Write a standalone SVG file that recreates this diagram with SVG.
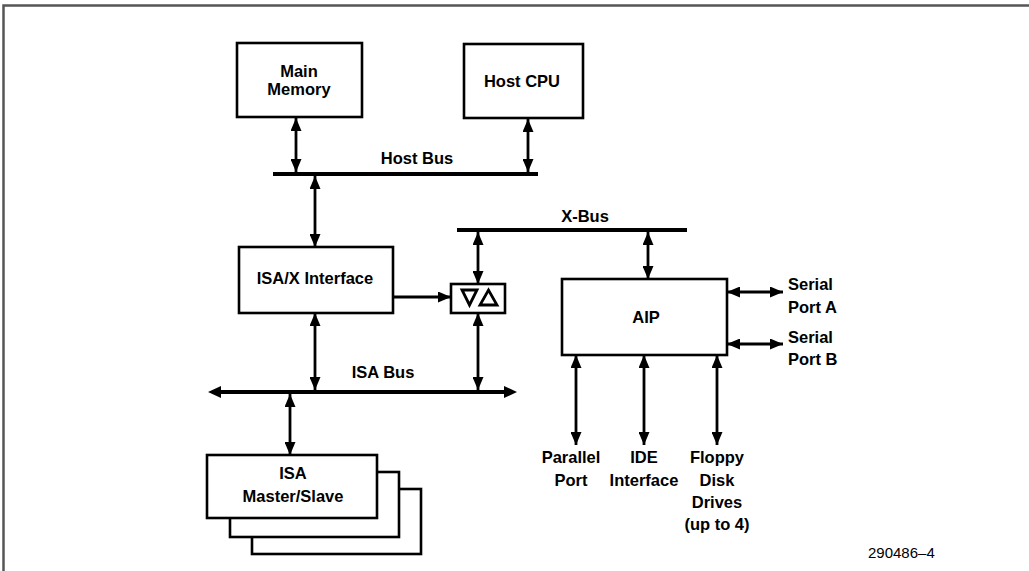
<svg xmlns="http://www.w3.org/2000/svg" width="1029" height="571" viewBox="0 0 1029 571">
<style>
.box{fill:#fff;stroke:#000;stroke-width:2.6}
.bus{stroke:#000;stroke-width:4;fill:none}
.ln{stroke:#000;stroke-width:2.8;fill:none}
.t{font-family:"Liberation Sans",Arial,sans-serif;font-weight:bold;font-size:16.5px;fill:#000;text-anchor:middle}
.tl{font-family:"Liberation Sans",Arial,sans-serif;font-weight:bold;font-size:16.5px;fill:#000}
.n{font-family:"Liberation Sans",Arial,sans-serif;font-size:15px;fill:#000}
.frame{stroke:#555;stroke-width:2.5;fill:none}
</style>
<defs>
<marker id="ah" markerUnits="userSpaceOnUse" markerWidth="13" markerHeight="11" refX="13" refY="5.5" orient="auto-start-reverse">
<path d="M0,0 L13,5.5 L0,11 z" fill="#000"/>
</marker>
</defs>
<path class="frame" d="M3.5,571 V5.5 H1029"/>
<g id="main-memory"><rect class="box" x="237" y="43" width="125" height="74"/><text class="t" x="299" y="77">Main</text><text class="t" x="299" y="95">Memory</text></g>
<g id="host-cpu"><rect class="box" x="464" y="44" width="119" height="74"/><text class="t" x="522" y="87">Host CPU</text></g>
<g id="host-bus"><line class="bus" x1="273" y1="174" x2="538" y2="174"/><text class="t" x="417" y="164">Host Bus</text></g>
<g id="isa-x-interface"><rect class="box" x="239" y="247" width="154" height="66"/><text class="t" x="315" y="284">ISA/X Interface</text></g>
<g id="buffer"><rect class="box" x="451" y="284" width="54" height="29"/><path class="ln" d="M462,290 H477 L469.5,305 Z"/><path class="ln" d="M480,305 H497 L488.5,290 Z"/></g>
<g id="x-bus"><line class="bus" x1="457" y1="230" x2="687" y2="230"/><text class="t" x="585" y="222">X-Bus</text></g>
<g id="aip"><rect class="box" x="562" y="279" width="165" height="76"/><text class="t" x="646" y="323">AIP</text></g>
<g id="isa-bus"><line class="bus" x1="218" y1="392" x2="507" y2="392"/><path d="M208,392 L221,386 L221,398 Z M517,392 L504,386 L504,398 Z" fill="#000"/><text class="t" x="383" y="378">ISA Bus</text></g>
<g id="isa-master-slave"><rect class="box" x="252" y="489" width="169" height="65"/><rect class="box" x="230" y="472" width="169" height="65"/><rect class="box" x="207" y="455" width="170" height="63"/><text class="t" x="293" y="479">ISA</text><text class="t" x="293" y="502">Master/Slave</text></g>
<g id="serial-a"><text class="tl" x="788" y="290">Serial</text><text class="tl" x="788" y="313">Port A</text></g>
<g id="serial-b"><text class="tl" x="788" y="343">Serial</text><text class="tl" x="788" y="365">Port B</text></g>
<g id="parallel-port"><text class="t" x="571" y="463">Parallel</text><text class="t" x="571" y="486">Port</text></g>
<g id="ide-interface"><text class="t" x="644" y="463">IDE</text><text class="t" x="644" y="486">Interface</text></g>
<g id="floppy"><text class="t" x="717" y="463">Floppy</text><text class="t" x="717" y="486">Disk</text><text class="t" x="717" y="508">Drives</text><text class="t" x="717" y="530">(up to 4)</text></g>
<g id="connectors">
<line class="ln" x1="296" y1="118" x2="296" y2="172" marker-start="url(#ah)" marker-end="url(#ah)"/>
<line class="ln" x1="528" y1="119" x2="528" y2="172" marker-start="url(#ah)" marker-end="url(#ah)"/>
<line class="ln" x1="315" y1="176" x2="315" y2="247" marker-start="url(#ah)" marker-end="url(#ah)"/>
<line class="ln" x1="393" y1="297" x2="451" y2="297" marker-end="url(#ah)"/>
<line class="ln" x1="478" y1="232" x2="478" y2="284" marker-start="url(#ah)" marker-end="url(#ah)"/>
<line class="ln" x1="648" y1="232" x2="648" y2="279" marker-start="url(#ah)" marker-end="url(#ah)"/>
<line class="ln" x1="478" y1="313" x2="478" y2="390" marker-start="url(#ah)" marker-end="url(#ah)"/>
<line class="ln" x1="315" y1="313" x2="315" y2="390" marker-start="url(#ah)" marker-end="url(#ah)"/>
<line class="ln" x1="290" y1="394" x2="290" y2="455" marker-start="url(#ah)" marker-end="url(#ah)"/>
<line class="ln" x1="727" y1="292" x2="783" y2="292" marker-start="url(#ah)" marker-end="url(#ah)"/>
<line class="ln" x1="727" y1="344" x2="783" y2="344" marker-start="url(#ah)" marker-end="url(#ah)"/>
<line class="ln" x1="576" y1="355" x2="576" y2="445" marker-start="url(#ah)" marker-end="url(#ah)"/>
<line class="ln" x1="644" y1="355" x2="644" y2="445" marker-start="url(#ah)" marker-end="url(#ah)"/>
<line class="ln" x1="717" y1="355" x2="717" y2="445" marker-start="url(#ah)" marker-end="url(#ah)"/>
</g>
<text class="n" x="868" y="558">290486–4</text>
</svg>
